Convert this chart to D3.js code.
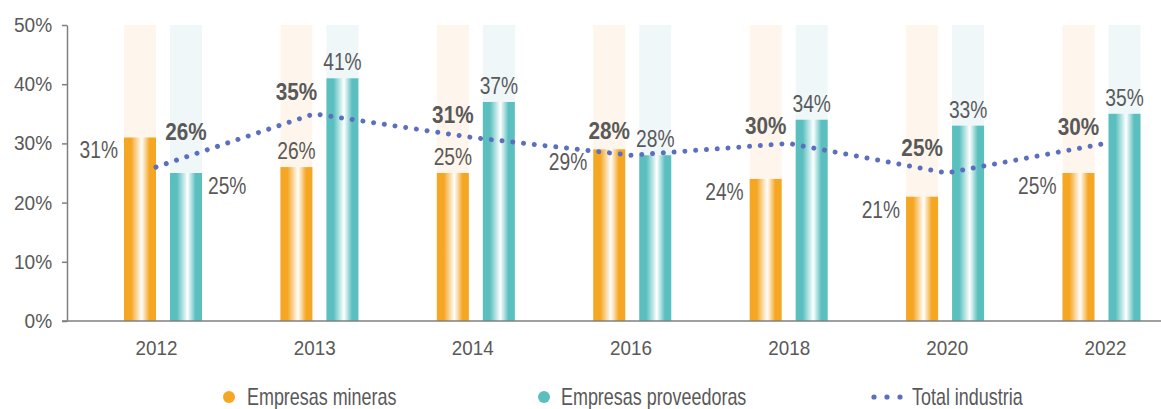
<!DOCTYPE html>
<html>
<head>
<meta charset="utf-8">
<script src="https://cdn.jsdelivr.net/npm/d3@7"></script>
<style>
  body { margin: 0; background: #fff; }
  svg text { font-family: "Liberation Sans", Arial, sans-serif; fill: #595959; }
</style>
</head>
<body>
<script>
'use strict';

// chart values (percent)
const years = ["2012", "2013", "2014", "2016", "2018", "2020", "2022"];
const mineras = [31, 26, 25, 29, 24, 21, 25];
const proveedoras = [25, 41, 37, 28, 34, 33, 35];
const total = [26, 35, 31, 28, 30, 25, 30];
const yTicks = [0, 10, 20, 30, 40, 50];
const seriesNames = ["Empresas mineras", "Empresas proveedoras", "Total industria"];

// where each value label sits relative to its bar
const minerasLabelSide = ["left", "top", "top", "left", "left", "left", "left"];
const proveedorasLabelSide = ["right", "top", "top", "top", "top", "top", "top"];
// bold total labels: which bar they sit over, and vertical nudge from the line point
const totalLabelBar = ["p", "m", "m", "m", "m", "m", "m"];
const totalLabelNudge = [-27, -14, -14.5, -16, -9.5, -17, -8.5];

const width = 1161, height = 409;
const orange = "#F5A623", teal = "#5BBFBF", lineBlue = "#5B6FBE";

const svg = d3.select("body").append("svg")
  .attr("width", width)
  .attr("height", height);

// gradients for the bars
const defs = svg.append("defs");
function addGradient(id, color) {
  let g = defs.append("linearGradient").attr("id", id)
    .attr("x1", "0%").attr("x2", "100%").attr("y1", "0%").attr("y2", "0%");
  g.append("stop").attr("offset", "0%").attr("stop-color", color);
  g.append("stop").attr("offset", "22%").attr("stop-color", color);
  g.append("stop").attr("offset", "55%").attr("stop-color", "#ffffff");
  g.append("stop").attr("offset", "80%").attr("stop-color", color);
  g.append("stop").attr("offset", "100%").attr("stop-color", color);
}
addGradient("gradOrange", orange);
addGradient("gradTeal", teal);

// scales
const y = d3.scaleLinear().domain([0, 50]).range([321, 25]);
const xCat = d3.scalePoint().domain(years).range([156, 1105]);   // labels + line
const xBar = d3.scalePoint().domain(years).range([163, 1101.5]); // bar groups
const barW = 32;
const mLeft = d => xBar(d) - 39;
const pLeft = d => xBar(d) + 7;

// text is condensed in the original, squeeze it horizontally
function place(x, yy, sx) { return `translate(${x},${yy}) scale(${sx},1)`; }

// light background tracks behind the bars
svg.selectAll(".trackM").data(years).enter().append("rect")
  .attr("x", d => mLeft(d)).attr("y", y(50))
  .attr("width", barW).attr("height", y(0) - y(50))
  .attr("fill", "#FEF6EC");
svg.selectAll(".trackP").data(years).enter().append("rect")
  .attr("x", d => pLeft(d)).attr("y", y(50))
  .attr("width", barW).attr("height", y(0) - y(50))
  .attr("fill", "#EFF7F9");

// bars
svg.selectAll(".barM").data(years).enter().append("rect")
  .attr("x", d => mLeft(d)).attr("y", (d, i) => y(mineras[i]))
  .attr("width", barW).attr("height", (d, i) => y(0) - y(mineras[i]))
  .attr("fill", "url(#gradOrange)");
svg.selectAll(".barP").data(years).enter().append("rect")
  .attr("x", d => pLeft(d)).attr("y", (d, i) => y(proveedoras[i]))
  .attr("width", barW).attr("height", (d, i) => y(0) - y(proveedoras[i]))
  .attr("fill", "url(#gradTeal)");

// y axis
const yAxis = d3.axisLeft(y).tickValues(yTicks).tickSize(5).tickSizeOuter(0).tickPadding(11)
  .tickFormat(d => d + "%");
const gy = svg.append("g").attr("transform", "translate(67,0)").call(yAxis);
gy.selectAll("path, line").attr("stroke", "#7f7f7f").attr("stroke-width", 1.5);
gy.selectAll("text").style("font-size", "20.5px").attr("fill", "#595959")
  .attr("transform", "scale(0.93,1)");

// baseline
svg.append("line")
  .attr("x1", 62).attr("x2", width).attr("y1", y(0)).attr("y2", y(0))
  .attr("stroke", "#7f7f7f").attr("stroke-width", 1.5);

// x labels
const xAxis = d3.axisBottom(xCat).tickSize(0).tickPadding(19);
const gx = svg.append("g").attr("transform", `translate(0,${y(0)})`).call(xAxis);
gx.select(".domain").remove();
gx.selectAll("text").style("font-size", "20.5px").attr("fill", "#595959")
  .attr("transform", "scale(0.92,1)");

// total industria line
const line = d3.line().x((d, i) => xCat(years[i])).y(d => y(d));
svg.append("path").datum(total)
  .attr("d", line)
  .attr("fill", "none")
  .attr("stroke", lineBlue)
  .attr("stroke-width", 5)
  .attr("stroke-linecap", "round")
  .attr("stroke-dasharray", "0.01 10.8");

// value labels for bars
function barLabel(values, sides, left) {
  svg.selectAll(null).data(years).enter().append("text")
    .attr("transform", (d, i) => {
      let lx = left(d) + barW / 2;
      if (sides[i] == "left") lx = left(d) - 6;
      if (sides[i] == "right") lx = left(d) + barW + 6;
      let ly = sides[i] == "top" ? y(values[i]) - 8 : y(values[i]) + 21;
      return place(lx, ly, 0.8);
    })
    .attr("text-anchor", (d, i) => sides[i] == "left" ? "end" : (sides[i] == "right" ? "start" : "middle"))
    .style("font-size", "24px")
    .text((d, i) => values[i] + "%");
}
barLabel(mineras, minerasLabelSide, mLeft);
barLabel(proveedoras, proveedorasLabelSide, pLeft);

// bold total labels
svg.selectAll(".totLabel").data(years).enter().append("text")
  .attr("transform", (d, i) => place((totalLabelBar[i] == "p" ? pLeft(d) : mLeft(d)) + barW / 2,
    y(total[i]) + totalLabelNudge[i], 0.9))
  .attr("text-anchor", "middle")
  .style("font-size", "23px")
  .style("font-weight", "bold")
  .attr("fill", "#4d4d4d")
  .text((d, i) => total[i] + "%");

// legend
const legend = svg.append("g").attr("transform", "translate(0,397)");
legend.append("circle").attr("cx", 229).attr("cy", 0).attr("r", 6).attr("fill", orange);
legend.append("text").attr("transform", place(247, 8, 0.78)).style("font-size", "23px").text(seriesNames[0]);
legend.append("circle").attr("cx", 544).attr("cy", 0).attr("r", 6).attr("fill", teal);
legend.append("text").attr("transform", place(561, 8, 0.78)).style("font-size", "23px").text(seriesNames[1]);
legend.selectAll(".ld").data([0, 1, 2]).enter().append("circle")
  .attr("cx", d => 874 + d * 13).attr("cy", 0).attr("r", 2.6).attr("fill", lineBlue);
legend.append("text").attr("transform", place(912, 8, 0.78)).style("font-size", "23px").text(seriesNames[2]);
</script>
</body>
</html>
